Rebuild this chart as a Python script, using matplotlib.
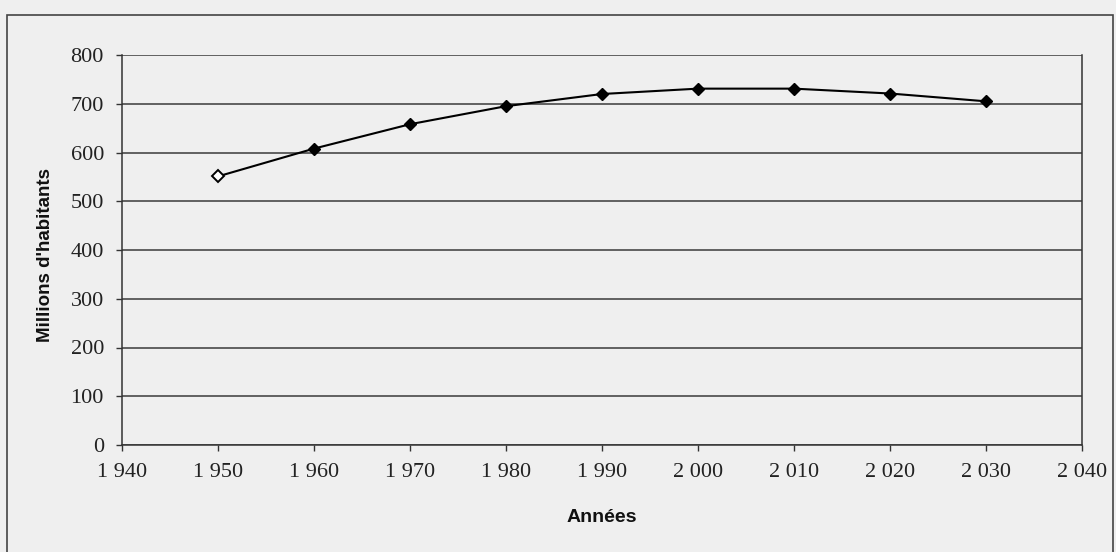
import matplotlib
matplotlib.use('agg')
import matplotlib.pyplot as plt
from matplotlib.patches import Rectangle

years = [1950, 1960, 1970, 1980, 1990, 2000, 2010, 2020, 2030]
population = [551, 608, 658, 695, 720, 731, 731, 721, 705]
x_ticks = [1940, 1950, 1960, 1970, 1980, 1990, 2000, 2010, 2020, 2030, 2040]
x_labels = ['1 940', '1 950', '1 960', '1 970', '1 980', '1 990',
            '2 000', '2 010', '2 020', '2 030', '2 040']
y_ticks = [0, 100, 200, 300, 400, 500, 600, 700, 800]

plt.rcParams['font.family'] = ['Liberation Serif', 'DejaVu Serif']
bg = '#efefef'

fig = plt.figure(figsize=(11.16, 5.52), dpi=100, facecolor=bg)
W, H = 1116, 552
ax = fig.add_axes([122 / W, 1 - 445 / H, (1082 - 122) / W, (445 - 55) / H])
ax.set_facecolor(bg)

# outer chart frame, its bottom edge is cut off by the picture
fig.patches.append(Rectangle((7 / W, -0.05), (1113 - 7) / W, 1 - 15 / H + 0.05,
                             transform=fig.transFigure, fill=False,
                             edgecolor='#444444', linewidth=1.2))

ax.set_xlim(1940, 2040)
ax.set_ylim(0, 800)
ax.set_yticks(y_ticks)
ax.set_yticklabels([str(v) for v in y_ticks], fontsize=16, color='#222222')
ax.set_xticks(x_ticks)
ax.set_xticklabels(x_labels, fontsize=16, color='#222222')
ax.tick_params(axis='both', direction='out', length=4, width=1, color='#333333')
ax.tick_params(axis='x', pad=9)
ax.tick_params(axis='y', pad=9)

ax.grid(axis='y', color='#3a3a3a', linewidth=1.1)
ax.set_axisbelow(True)
for side in ['left', 'right', 'bottom']:
    ax.spines[side].set_color('#333333')
    ax.spines[side].set_linewidth(1.1)
ax.spines['top'].set_visible(False)

ax.plot(years, population, color='black', linewidth=1.5, zorder=3)
ax.plot(years[1:], population[1:], linestyle='none', marker='D', markersize=6,
        color='black', zorder=4)
ax.plot(years[:1], population[:1], linestyle='none', marker='D', markersize=6,
        markerfacecolor='white', markeredgecolor='black', markeredgewidth=1.4, zorder=4)

fig.text(46 / W, 1 - 255 / H, "Millions d'habitants", rotation=90, ha='center',
         va='center', fontsize=13.5, fontweight='bold', color='#111111',
         family=['Liberation Sans', 'DejaVu Sans'])
fig.text(602 / W, 1 - 518 / H, 'Années', ha='center', va='center',
         fontsize=14, fontweight='bold', color='#111111',
         family=['Liberation Sans', 'DejaVu Sans'])

fig.savefig('out.png', dpi=100, facecolor=bg)
